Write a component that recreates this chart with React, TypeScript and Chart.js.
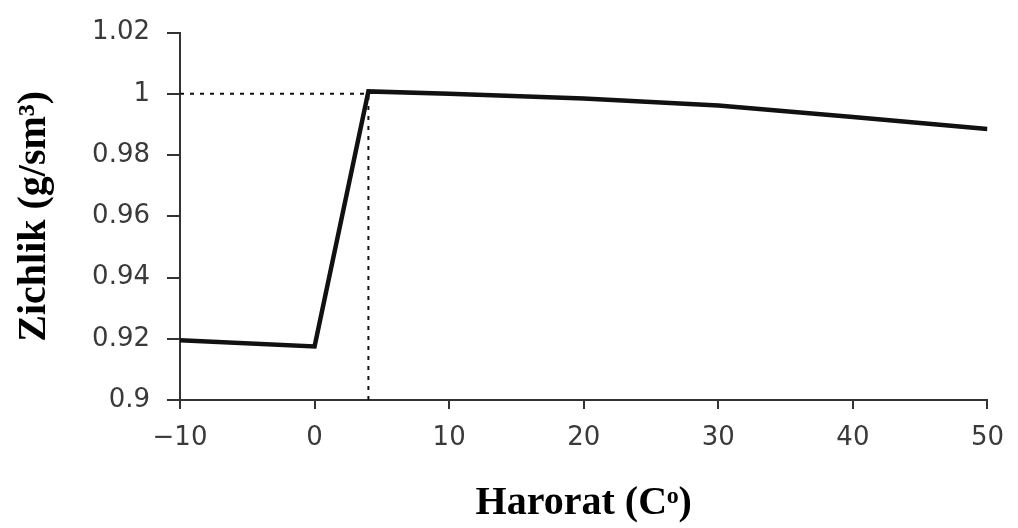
import React, { useEffect, useRef } from "react";
import { Chart, registerables } from "chart.js";

Chart.register(...registerables);

const temperatures = [-10, 0, 4, 10, 20, 30, 40, 50];
const densities = [0.9195, 0.9175, 1.0008, 1.0, 0.9985, 0.9962, 0.9924, 0.9885];
const refHLineX = [-10, 4];
const refHLineY = [1, 1];
const refVLineX = [4, 4];
const refVLineY = [0.9, 1];
const xTicks = [-10, 0, 10, 20, 30, 40, 50];
const xTickLabels = ["\u221210", "0", "10", "20", "30", "40", "50"];
const yTicks = [0.9, 0.92, 0.94, 0.96, 0.98, 1, 1.02];
const yTickLabels = ["0.9", "0.92", "0.94", "0.96", "0.98", "1", "1.02"];

export default function App() {
  const ref = useRef<HTMLCanvasElement | null>(null);
  useEffect(() => {
    document.body.style.margin = "0";
    const ctx = ref.current!;
    const toPts = (xs: number[], ys: number[]) => xs.map((x, i) => ({ x, y: ys[i] }));
    const chart = new Chart(ctx, {
      type: "scatter",
      data: {
        datasets: [
          {
            data: toPts(refHLineX, refHLineY),
            showLine: true,
            borderColor: "#111",
            borderWidth: 2,
            borderDash: [4, 6],
            pointRadius: 0,
          },
          {
            data: toPts(refVLineX, refVLineY),
            showLine: true,
            borderColor: "#111",
            borderWidth: 2,
            borderDash: [4, 6],
            pointRadius: 0,
          },
          {
            data: toPts(temperatures, densities),
            showLine: true,
            borderColor: "#111",
            borderWidth: 4.5,
            pointRadius: 0,
            tension: 0,
          },
        ],
      },
      options: {
        animation: false,
        responsive: false,
        layout: { padding: { top: 30, right: 27, left: 0, bottom: 0 } },
        plugins: { legend: { display: false }, tooltip: { enabled: false } },
        scales: {
          x: {
            type: "linear",
            min: -10,
            max: 50,
            afterBuildTicks: (s: any) => {
              s.ticks = xTicks.map((v) => ({ value: v }));
            },
            afterFit: (s: any) => {
              s.height = 128;
            },
            ticks: {
              callback: (v: any) => {
                const i = xTicks.indexOf(Number(v));
                return i >= 0 ? xTickLabels[i] : "";
              },
              font: { family: "'DejaVu Sans'", size: 26 },
              color: "#3a3a3a",
              padding: 14,
              maxRotation: 0,
            },
            grid: { drawOnChartArea: false, drawTicks: true, tickLength: 9, color: "#333", lineWidth: 2 },
            border: { color: "#333", width: 2 },
            title: {
              display: true,
              text: "Harorat (C\u1D52)",
              font: { family: "'Liberation Serif'", size: 40, weight: "bold" },
              color: "#000",
              padding: { top: 0, bottom: 0 },
            },
          },
          y: {
            type: "linear",
            min: 0.9,
            max: 1.02,
            afterBuildTicks: (s: any) => {
              s.ticks = yTicks.map((v) => ({ value: v }));
            },
            afterFit: (s: any) => {
              s.width = 180;
            },
            ticks: {
              callback: (v: any) => {
                const i = yTicks.findIndex((t) => Math.abs(t - Number(v)) < 1e-6);
                return i >= 0 ? yTickLabels[i] : "";
              },
              font: { family: "'DejaVu Sans'", size: 26 },
              color: "#3a3a3a",
              padding: 17,
            },
            grid: { drawOnChartArea: false, drawTicks: true, tickLength: 13, color: "#333", lineWidth: 2 },
            border: { color: "#333", width: 2 },
            title: {
              display: true,
              text: "Zichlik (g/sm\u00B3)",
              font: { family: "'Liberation Serif'", size: 40, weight: "bold" },
              color: "#000",
              padding: { top: 11, bottom: 0 },
            },
          },
        },
      },
    });
    return () => chart.destroy();
  }, []);
  return (
    <div style={{ width: 1018, height: 528 }}>
      <canvas ref={ref} width={1018} height={528} />
    </div>
  );
}
